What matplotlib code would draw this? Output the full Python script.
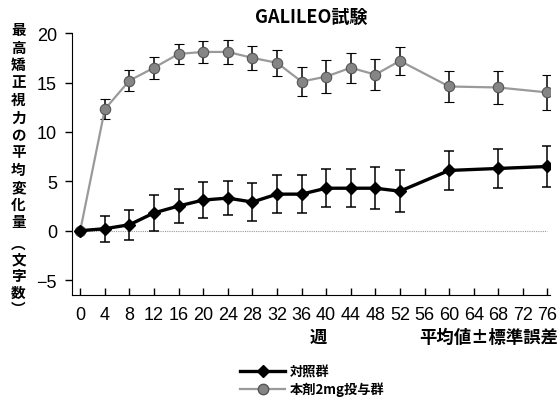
import matplotlib.pyplot as plt
from matplotlib.lines import Line2D

plt.rcParams['font.family'] = ['Noto Sans CJK JP', 'DejaVu Sans']

weeks = [0, 4, 8, 12, 16, 20, 24, 28, 32, 36, 40, 44, 48, 52, 60, 68, 76]
control_mean = [0, 0.2, 0.6, 1.8, 2.5, 3.1, 3.3, 2.9, 3.7, 3.7, 4.3, 4.3, 4.3, 4.0, 6.1, 6.3, 6.5]
control_se = [0, 1.3, 1.5, 1.8, 1.7, 1.8, 1.7, 1.9, 1.9, 1.9, 1.9, 1.9, 2.1, 2.1, 2.0, 2.0, 2.1]
drug_mean = [0, 12.3, 15.2, 16.5, 17.9, 18.1, 18.1, 17.5, 17.0, 15.1, 15.6, 16.5, 15.8, 17.2, 14.6, 14.5, 14.0]
drug_se = [0, 1.0, 1.1, 1.1, 1.0, 1.1, 1.2, 1.2, 1.3, 1.5, 1.7, 1.5, 1.6, 1.4, 1.6, 1.7, 1.8]
xticks = list(range(0, 80, 4))
yticks = [-5, 0, 5, 10, 15, 20]
ylabel_chars = list('最高矯正視力の平均変化量') + ['︵', '文', '字', '数', '︶']
# pixel rows (from top) of each vertical label character
ylabel_rows = [30 + i * 17.5 for i in range(12)] + [244, 259, 276, 293, 309]

fig = plt.figure(figsize=(5.6, 4.02), dpi=100)
ax = fig.add_axes([0.129, 0.264, 0.853, 0.651])

num_font = ['Liberation Sans Narrow', 'Liberation Sans']

# zero reference line
ax.plot([0, 76], [0, 0], ls=(0, (1, 1)), color='#999999', lw=0.8, zorder=1)

ax.errorbar(weeks, drug_mean, yerr=drug_se, color='#9a9a9a', lw=1.6,
            marker='o', ms=7.5, mfc='#858585', mec='#555555', mew=0.8,
            ecolor='black', elinewidth=1.1, capsize=3.8, capthick=1.1, zorder=3)
ax.errorbar(weeks, control_mean, yerr=control_se, color='black', lw=2.4,
            marker='D', ms=6.5, mfc='black', mec='black',
            ecolor='black', elinewidth=1.1, capsize=3.8, capthick=1.1, zorder=4)

ax.set_xlim(-1.3, 76.4)
ax.set_ylim(-6.5, 20)
ax.set_xticks(xticks)
ax.set_yticks(yticks)
ax.set_yticklabels([str(v).replace('-', '−') if v < 0 else str(v) for v in yticks])
ax.spines['top'].set_visible(False)
ax.spines['right'].set_visible(False)
ax.tick_params(axis='x', direction='in', length=5, width=1, pad=8, labelsize=13)
ax.tick_params(axis='y', direction='out', length=5, width=1, pad=6, labelsize=13)
for lab in ax.get_xticklabels() + ax.get_yticklabels():
    lab.set_family(num_font)

ax.set_title('GALILEO試験', fontsize=13, fontweight='bold', pad=8)

# vertical y label
for ch, row in zip(ylabel_chars, ylabel_rows):
    fig.text(0.033, 1 - row / 402, ch, fontsize=10.5, fontweight='bold',
             ha='center', va='center')

fig.text(0.568, 1 - 338 / 402, '週', fontsize=12.5, fontweight='bold', ha='center', va='center')
fig.text(0.997, 1 - 338 / 402, '平均値±標準誤差', fontsize=12.5, fontweight='bold',
         ha='right', va='center')

handles = [
    Line2D([], [], color='black', lw=2.4, marker='D', ms=6.5),
    Line2D([], [], color='#9a9a9a', lw=1.6, marker='o', ms=7.5, mfc='#858585', mec='#555555'),
]
fig.legend(handles, ['対照群', '本剤2mg投与群'], loc='upper left',
           bbox_to_anchor=(0.42, 0.103), frameon=False, handlelength=3.4,
           handletextpad=0.35, labelspacing=0.2, borderaxespad=0,
           prop={'size': 9.5, 'weight': 'bold'})

fig.savefig('out.png', dpi=100)
